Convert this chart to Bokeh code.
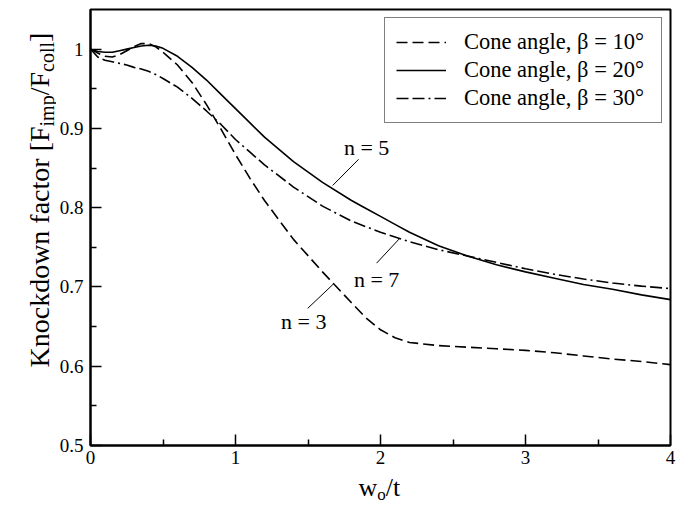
import math
from bokeh.plotting import figure
from bokeh.models import Range1d, FixedTicker, Legend, LegendItem, Label
from bokeh.layouts import column, row
from bokeh.embed import file_html
from bokeh.resources import INLINE

# ---------------- data ----------------
w_over_t = [0.0, 0.05, 0.1, 0.15, 0.2, 0.25, 0.3, 0.35, 0.4, 0.45, 0.5, 0.6, 0.7, 0.8, 0.9,
            1.0, 1.1, 1.2, 1.4, 1.6, 1.8, 1.9, 2.0, 2.1, 2.2, 2.4, 2.6, 2.8, 3.0, 3.2, 3.4, 3.6, 3.8, 4.0]

kd_beta10 = [1.000, 0.995, 0.991, 0.990, 0.993, 0.998, 1.003, 1.007, 1.007, 1.003, 0.996, 0.980, 0.958, 0.930, 0.899,
             0.867, 0.837, 0.809, 0.760, 0.719, 0.680, 0.661, 0.646, 0.636, 0.630, 0.626, 0.624, 0.622, 0.620, 0.617, 0.613, 0.609, 0.606, 0.602]

kd_beta20 = [1.000, 0.997, 0.996, 0.996, 0.998, 1.000, 1.002, 1.004, 1.005, 1.004, 1.001, 0.991, 0.977, 0.961, 0.943,
             0.925, 0.907, 0.889, 0.858, 0.832, 0.809, 0.799, 0.789, 0.779, 0.769, 0.752, 0.739, 0.728, 0.719, 0.711, 0.703, 0.697, 0.690, 0.684]

kd_beta30 = [1.000, 0.990, 0.986, 0.984, 0.982, 0.980, 0.977, 0.975, 0.972, 0.968, 0.963, 0.952, 0.938, 0.922, 0.905,
             0.886, 0.870, 0.854, 0.826, 0.802, 0.783, 0.776, 0.769, 0.763, 0.757, 0.747, 0.739, 0.731, 0.723, 0.716, 0.710, 0.705, 0.701, 0.698]

series_labels = ["Cone angle, \u03b2 = 10\u00b0", "Cone angle, \u03b2 = 20\u00b0", "Cone angle, \u03b2 = 30\u00b0"]

x_ticks = [0, 1, 2, 3, 4]
x_tick_labels = ["0", "1", "2", "3", "4"]
x_minor = [0.5, 1.5, 2.5, 3.5]
y_ticks = [0.5, 0.6, 0.7, 0.8, 0.9, 1.0]
y_tick_labels = ["0.5", "0.6", "0.7", "0.8", "0.9", "1"]
y_minor = [0.55, 0.65, 0.75, 0.85, 0.95]

# annotations: text, text position, leader line (start -> curve)
ann_text = ["n = 5", "n = 7", "n = 3"]
ann_x = [1.904, 1.973, 1.471]
ann_y = [0.876, 0.709, 0.656]
lead_x0 = [1.849, 1.973, 1.498]
lead_y0 = [0.861, 0.730, 0.673]
lead_x1 = [1.670, 2.131, 1.677]
lead_y1 = [0.828, 0.761, 0.704]

FONT = "Liberation Serif"

# ---------------- layout sizes ----------------
LEFT_W = 56          # strip holding the y-axis title
MAIN_W = 629
MAIN_H = 471
BOTTOM_H = 34        # strip holding the x-axis title

# ---------------- main figure ----------------
p = figure(width=MAIN_W, height=MAIN_H, title=None,
           x_range=Range1d(0, 4), y_range=Range1d(0.5, 1.05),
           output_backend="svg", toolbar_location=None,
           min_border_left=32, min_border_right=15, min_border_top=9, min_border_bottom=26)

p.background_fill_color = "white"
p.border_fill_color = "white"
p.outline_line_color = "black"
p.outline_line_width = 2
p.xgrid.visible = False
p.ygrid.visible = False

p.xaxis.ticker = FixedTicker(ticks=x_ticks, minor_ticks=x_minor)
p.yaxis.ticker = FixedTicker(ticks=y_ticks, minor_ticks=y_minor)
p.xaxis.major_label_overrides = dict(zip(x_ticks, x_tick_labels))
p.yaxis.major_label_overrides = dict(zip(y_ticks, y_tick_labels))

for ax in (p.xaxis, p.yaxis):
    ax.axis_line_color = "black"
    ax.axis_line_width = 2
    ax.major_tick_in = 11
    ax.major_tick_out = 0
    ax.minor_tick_in = 6
    ax.minor_tick_out = 0
    ax.major_tick_line_color = "black"
    ax.minor_tick_line_color = "black"
    ax.major_tick_line_width = 1.5
    ax.minor_tick_line_width = 1.5
    ax.major_label_text_font = FONT
    ax.major_label_text_font_size = "19px"
    ax.major_label_text_color = "black"
p.xaxis.major_label_standoff = 5
p.yaxis.major_label_standoff = 7

r10 = p.line(w_over_t, kd_beta10, line_color="black", line_width=1.6, line_dash="11 5")
r20 = p.line(w_over_t, kd_beta20, line_color="black", line_width=1.6)
r30 = p.line(w_over_t, kd_beta30, line_color="black", line_width=1.6, line_dash="12 4 12 4 2 4")

legend = Legend(items=[LegendItem(label=series_labels[0], renderers=[r10]),
                       LegendItem(label=series_labels[1], renderers=[r20]),
                       LegendItem(label=series_labels[2], renderers=[r30])],
                location="top_right", margin=8, padding=11, spacing=2,
                glyph_width=50, glyph_height=20, label_standoff=18, label_width=186,
                label_text_font=FONT, label_text_font_size="22.5px", label_text_color="black",
                border_line_color="black", border_line_width=1.5,
                background_fill_color="white", background_fill_alpha=1.0)
p.add_layout(legend)

# leader lines and n = ... labels
p.segment(x0=lead_x0, y0=lead_y0, x1=lead_x1, y1=lead_y1, line_color="black", line_width=1)
for t, ax_, ay_ in zip(ann_text, ann_x, ann_y):
    p.add_layout(Label(x=ax_, y=ay_, text=t, text_font=FONT, text_font_size="22px",
                       text_color="black", text_align="center", text_baseline="middle"))


# ---------------- axis titles with subscripts (in their own strips) ----------------
def strip(w, h):
    f = figure(width=w, height=h, title=None, x_range=Range1d(0, 1), y_range=Range1d(0, 1),
               output_backend="svg", toolbar_location=None,
               x_axis_location=None, y_axis_location=None, min_border=0)
    f.outline_line_color = None
    f.background_fill_color = "white"
    f.border_fill_color = "white"
    f.grid.visible = False
    return f


TW = {"K": .722, "n": .5, "o": .5, "c": .444, "k": .5, "d": .5, "w": .722, " ": .25,
      "f": .333, "a": .444, "t": .278, "r": .333, "[": .333, "F": .556, "/": .278,
      "]": .333, "i": .278, "m": .778, "p": .5, "l": .278}
ASCENT = 0.891   # Liberation Serif ascent (em)


def tw(s, size):
    return sum(TW[c] for c in s) * size


# y-axis title, rotated, running upward
YMAIN, YSUB, YSHIFT = 28, 20, 7
yfig = strip(LEFT_W, MAIN_H)
y_pieces = [("Knockdown factor [F", YMAIN, 0), ("imp", YSUB, 1), ("/F", YMAIN, 0), ("coll", YSUB, 1), ("]", YMAIN, 0)]
pos = MAIN_H - 393.0
for txt, size, is_sub in y_pieces:
    yfig.add_layout(Label(x=39 + YSHIFT * is_sub, y=pos, x_units="screen", y_units="screen",
                          text=txt, angle=math.pi / 2, text_font=FONT, text_font_size=f"{size}px",
                          text_color="black", text_align="left", text_baseline="alphabetic"))
    pos += tw(txt, size)

# x-axis title (anchored at the top of each text piece)
XMAIN, XSUB, XSHIFT = 26, 17, 4
BASE_FROM_BOTTOM = 9
xfig = strip(LEFT_W + MAIN_W, BOTTOM_H)
x_pieces = [("w", XMAIN, 0), ("o", XSUB, 1), ("/t", XMAIN, 0)]
pos = 358.0
for txt, size, is_sub in x_pieces:
    top_y = BASE_FROM_BOTTOM - XSHIFT * is_sub + ASCENT * size
    xfig.add_layout(Label(x=pos, y=top_y, x_units="screen", y_units="screen",
                          text=txt, text_font=FONT, text_font_size=f"{size}px",
                          text_color="black", text_align="left", text_baseline="top"))
    pos += tw(txt, size)

layout = column(row(yfig, p, spacing=0), xfig, spacing=0)

open("out.html", "w").write(file_html(layout, INLINE))
